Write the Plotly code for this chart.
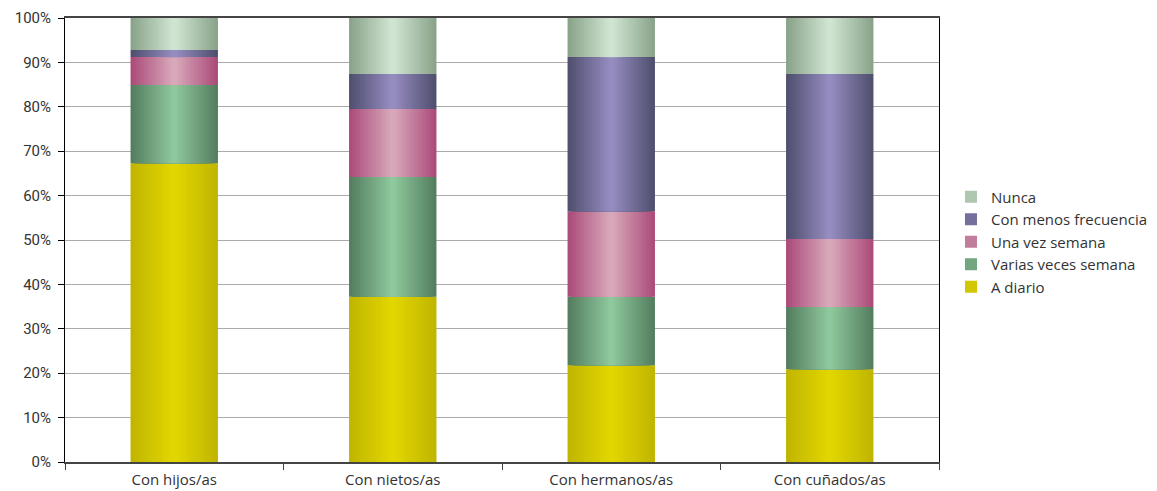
import plotly.graph_objects as go

categories = ["Con hijos/as", "Con nietos/as", "Con hermanos/as", "Con cuñados/as"]
series_names = ["A diario", "Varias veces semana", "Una vez semana", "Con menos frecuencia", "Nunca"]
a_diario = [67.3, 37.2, 21.8, 20.9]
varias_veces = [17.6, 27.0, 15.4, 14.0]
una_vez = [6.3, 15.3, 19.3, 15.3]
menos_frec = [1.6, 7.9, 34.7, 37.2]
nunca = [7.2, 12.6, 8.8, 12.6]
series_values = [a_diario, varias_veces, una_vez, menos_frec, nunca]
y_ticks = [0, 10, 20, 30, 40, 50, 60, 70, 80, 90, 100]
y_tick_labels = [f"{v}%" for v in y_ticks]

# gradient colours (edge, centre)
edge_colors = [(192, 182, 0), (84, 126, 96), (172, 76, 122), (80, 80, 112), (138, 164, 138)]
center_colors = [(226, 214, 0), (142, 200, 156), (216, 168, 186), (150, 140, 192), (208, 228, 210)]

N = 16
W = 0.40

def mix(c1, c2, t):
    return "rgb(%d,%d,%d)" % tuple(round(a + (b - a) * t) for a, b in zip(c1, c2))

fig = go.Figure()
bases = [0.0] * len(categories)
for si, (name, vals) in enumerate(zip(series_names, series_values)):
    for k in range(N):
        # nested bars: outermost first (edge colour), narrower ones lighter
        half = W / 2 * (1 - k / N)
        t = k / (N - 1)
        col = mix(edge_colors[si], center_colors[si], t)
        fig.add_trace(go.Bar(
            x=categories, y=vals, base=list(bases),
            width=2 * half, offset=-half,
            marker=dict(color=col, line=dict(width=0)),
            name=name, legendgroup=name,
            showlegend=(k == N // 2),
            hoverinfo="skip" if k != 0 else None,
        ))
    bases = [b + v for b, v in zip(bases, vals)]

fig.update_layout(
    width=1149, height=483,
    barmode="overlay",
    paper_bgcolor="white", plot_bgcolor="white",
    margin=dict(l=57, r=218, t=10, b=29),
    font=dict(family="Open Sans", size=14, color="#333333"),
    legend=dict(xref="container", yref="container", x=0.8207, y=0.5155,
                xanchor="left", yanchor="middle",
                traceorder="reversed", font=dict(size=15, color="#333333"),
                tracegroupgap=0, itemwidth=30),
    xaxis=dict(
        type="category", showgrid=False, automargin=False,
        showline=True, linecolor="#444444", linewidth=2, mirror=True,
        ticks="outside", tickson="boundaries", ticklen=6, tickcolor="#444444",
        ticklabelstandoff=3,
        tickfont=dict(size=15, color="#333333"),
    ),
    yaxis=dict(
        range=[0, 100], tickvals=y_ticks, ticktext=y_tick_labels, automargin=False,
        showgrid=True, gridcolor="#aaaaaa", gridwidth=1,
        showline=True, linecolor="black", linewidth=1, mirror=True,
        ticks="outside", ticklen=6, tickcolor="black", ticklabelstandoff=4,
        tickfont=dict(family="Roboto", size=15, color="#333333"),
        zeroline=False,
    ),
)

fig.write_html("out.html")
